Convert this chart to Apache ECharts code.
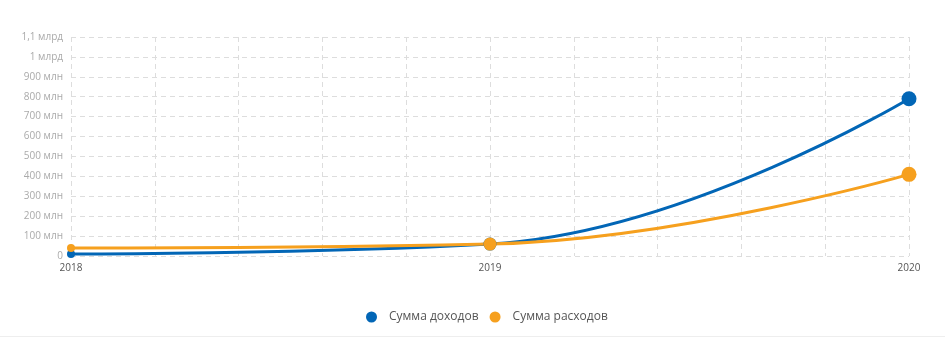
<!DOCTYPE html>
<html>
<head>
<meta charset="utf-8">
<script src="https://cdn.jsdelivr.net/npm/echarts@6/dist/echarts.min.js"></script>
<style>
html,body{margin:0;padding:0;background:#fff;}
#chart{width:945px;height:337px;border-bottom:1px solid #eee;box-sizing:border-box;}
</style>
</head>
<body>
<div id="chart"></div>
<script>
const years = [2018, 2019, 2020];
const income = [10e6, 60e6, 790e6];
const expenses = [40e6, 60e6, 410e6];
const seriesNames = ['Сумма доходов', 'Сумма расходов'];
const pointSizes = [8, 13, 15];

function fmtY(v) {
  if (v === 0) return '0';
  if (v >= 1e9) return String(+(v / 1e9).toFixed(1)).replace('.', ',') + ' млрд';
  return Math.round(v / 1e6) + ' млн';
}

function pairs(vals) {
  return years.map((y, i) => ({ value: [y, vals[i]], symbolSize: pointSizes[i] }));
}

const chart = echarts.init(document.getElementById('chart'));
chart.setOption({
  animation: false,
  textStyle: { fontFamily: 'Open Sans' },
  grid: { left: 71, right: 36, top: 37, bottom: 80 },
  legend: {
    top: 306,
    left: 361,
    icon: 'circle',
    itemWidth: 11,
    itemHeight: 11,
    itemGap: 11,
    textStyle: { color: '#555', fontSize: 12, fontFamily: 'Open Sans', padding: [0, 0, 0, 7] },
    data: seriesNames
  },
  xAxis: {
    type: 'value',
    min: 2018,
    max: 2020,
    interval: 0.2,
    axisLine: { show: false },
    axisTick: { show: false },
    axisLabel: {
      color: '#555',
      fontSize: 10,
      margin: 7,
      formatter: v => Math.abs(v - Math.round(v)) < 1e-6 ? String(Math.round(v)) : ''
    },
    splitLine: { show: true, lineStyle: { color: '#ddd', type: [5, 4] } }
  },
  yAxis: {
    type: 'value',
    min: 0,
    max: 1.1e9,
    interval: 1e8,
    axisLine: { show: false },
    axisTick: { show: false },
    axisLabel: { color: '#aaa', fontSize: 10, margin: 8, formatter: fmtY },
    splitLine: { show: true, lineStyle: { color: '#ddd', type: [5, 4] } }
  },
  series: [
    {
      name: seriesNames[0],
      type: 'line',
      smooth: 0.45,
      symbol: 'circle',
      color: '#0266b6',
      lineStyle: { width: 3 },
      data: pairs(income)
    },
    {
      name: seriesNames[1],
      type: 'line',
      smooth: 0.45,
      symbol: 'circle',
      color: '#f6a01e',
      lineStyle: { width: 3 },
      data: pairs(expenses)
    }
  ]
});
</script>
</body>
</html>
